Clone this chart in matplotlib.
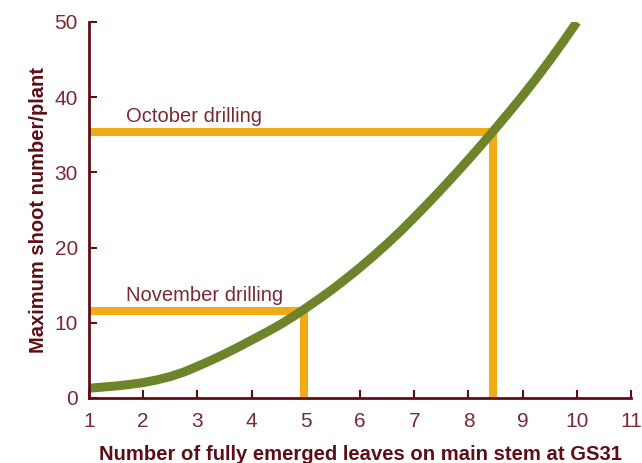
import matplotlib
matplotlib.use("Agg")
import matplotlib.pyplot as plt

# curve: max shoot number vs leaves at GS31
leaves = [1, 1.25, 1.5, 1.75, 2, 2.25, 2.5, 2.75, 3, 3.25, 3.5, 3.75, 4, 4.25, 4.5, 4.75,
          5, 5.25, 5.5, 5.75, 6, 6.25, 6.5, 6.75, 7, 7.25, 7.5, 7.75, 8, 8.25, 8.5, 8.75,
          9, 9.25, 9.5, 9.75, 10]
shoots = [1.3, 1.45, 1.6, 1.8, 2.05, 2.4, 2.85, 3.45, 4.2, 5.0, 5.85, 6.75, 7.7, 8.65, 9.65, 10.75,
          11.95, 13.2, 14.5, 15.9, 17.35, 18.9, 20.5, 22.2, 24.0, 25.85, 27.75, 29.7, 31.7, 33.75,
          35.85, 38.0, 40.2, 42.5, 44.9, 47.4, 50.0]

# drilling date guide lines
drill_labels = ["October drilling", "November drilling"]
drill_leaves = [8.45, 4.96]
drill_shoots = [35.4, 11.6]

xticks = list(range(1, 12))
yticks = [0, 10, 20, 30, 40, 50]

plt.rcParams["font.family"] = ["Liberation Sans", "DejaVu Sans"]

maroon = "#5e0f16"
txt = "#7a2a33"
orange = "#f0ab15"
green = "#6e842b"

fig = plt.figure(figsize=(6.42, 4.63), dpi=100)
ax = fig.add_axes([0.1386, 0.1404, 0.983 - 0.1386, 0.9525 - 0.1404])

for lab, xv, yv in zip(drill_labels, drill_leaves, drill_shoots):
    ax.plot([1, xv, xv], [yv, yv, 0], color=orange, lw=5.8, solid_joinstyle="miter",
            solid_capstyle="butt", zorder=2)
    ax.text(1.68, yv + 0.8, lab, color=txt, fontsize=14.5, ha="left", va="bottom")

ax.plot(leaves, shoots, color=green, lw=6.5, solid_capstyle="butt",
        solid_joinstyle="round", zorder=3)

ax.set_xlim(1, 11)
ax.set_ylim(0, 50)
ax.set_xticks(xticks)
ax.set_yticks(yticks)
ax.tick_params(direction="in", length=6, width=1.5, color=maroon, labelcolor=txt,
               labelsize=15)
ax.tick_params(axis="x", pad=10)
ax.tick_params(axis="y", pad=8)
for s in ["top", "right"]:
    ax.spines[s].set_visible(False)
for s in ["left", "bottom"]:
    ax.spines[s].set_color(maroon)
    ax.spines[s].set_linewidth(2)
    ax.spines[s].set_zorder(4)

ax.set_xlabel("Number of fully emerged leaves on main stem at GS31", color=maroon,
              fontsize=14.6, fontweight="bold", labelpad=10)
ax.set_ylabel("Maximum shoot number/plant", color=maroon, fontsize=14.5,
              fontweight="bold", labelpad=5)

fig.savefig("out.png", dpi=100)
